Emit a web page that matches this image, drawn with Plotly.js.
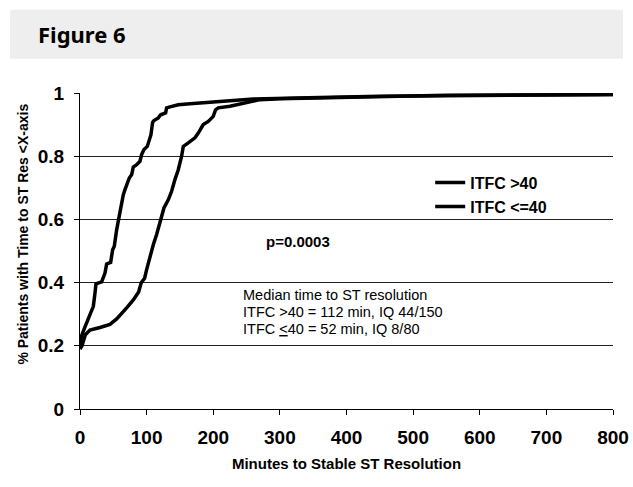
<!DOCTYPE html>
<html>
<head>
<meta charset="utf-8">
<script src="https://cdn.plot.ly/plotly-3.0.1.min.js"></script>
<style>
html,body{margin:0;padding:0;background:#fff;}
#chart{width:633px;height:487px;}
</style>
</head>
<body>
<div id="chart"></div>
<script>
// ITFC >40 (slower curve)
const gt40_x = [0, 3, 8, 15, 30, 45, 55, 62, 70, 80, 88, 92, 97, 100, 105, 110, 115, 120, 122.5, 126, 132.5, 137.5, 142.5, 147.5, 152.5, 155, 162.5, 172.5, 177.5, 185, 192.5, 200, 203.5, 207.5, 225, 245, 270, 300, 360, 450, 550, 800];
const gt40_y = [0.19, 0.20, 0.235, 0.25, 0.258, 0.268, 0.285, 0.30, 0.32, 0.345, 0.37, 0.40, 0.414, 0.441, 0.483, 0.52, 0.552, 0.588, 0.61, 0.636, 0.662, 0.689, 0.726, 0.757, 0.80, 0.831, 0.842, 0.858, 0.873, 0.90, 0.91, 0.926, 0.947, 0.953, 0.958, 0.968, 0.979, 0.982, 0.985, 0.99, 0.993, 0.995];
// ITFC <=40 (faster curve)
const le40_x = [0, 2, 7.5, 15, 20, 22.5, 24, 32.5, 37.5, 40, 46, 49, 51.5, 55, 59, 61, 65, 67.5, 71, 74, 77.5, 80, 85, 90, 92.5, 96, 101, 103.5, 106.5, 109, 111, 117.5, 121, 128.5, 130, 135, 147.5, 165, 210, 260, 360, 450, 800];
const le40_y = [0.19, 0.23, 0.26, 0.30, 0.325, 0.367, 0.396, 0.402, 0.43, 0.459, 0.464, 0.504, 0.515, 0.567, 0.61, 0.641, 0.678, 0.694, 0.715, 0.731, 0.741, 0.766, 0.773, 0.784, 0.805, 0.821, 0.831, 0.847, 0.868, 0.907, 0.913, 0.921, 0.931, 0.937, 0.953, 0.956, 0.963, 0.966, 0.973, 0.981, 0.986, 0.99, 0.995];

const seriesNames = ["ITFC >40", "ITFC <=40"];
const xTicks = [0, 100, 200, 300, 400, 500, 600, 700, 800];
const yTicks = [0, 0.2, 0.4, 0.6, 0.8, 1];
const yTickLabels = ["0", "0.2", "0.4", "0.6", "0.8", "1"];

const FONT = "Liberation Sans, Arial, sans-serif";

const traces = [
  {x: gt40_x, y: gt40_y, name: seriesNames[0], mode: "lines", line: {color: "#000", width: 3.5}},
  {x: le40_x, y: le40_y, name: seriesNames[1], mode: "lines", line: {color: "#000", width: 3.5}}
];

const layout = {
  width: 633, height: 487,
  margin: {l: 80, r: 20, t: 93, b: 78},
  paper_bgcolor: "#fff", plot_bgcolor: "#fff",
  font: {family: FONT, color: "#000"},
  showlegend: true,
  legend: {x: 0.657, y: 0.77, xanchor: "left", yanchor: "top", bgcolor: "rgba(0,0,0,0)",
           font: {family: FONT, size: 16, color: "#000", weight: "bold"}},
  xaxis: {
    range: [0, 800], tickvals: xTicks, ticktext: xTicks.map(String),
    showline: true, linecolor: "#000", linewidth: 1,
    ticks: "outside", ticklen: 5, tickcolor: "#000",
    showgrid: false, zeroline: false,
    ticklabelstandoff: 6,
    tickfont: {family: FONT, size: 19, color: "#000", weight: "bold"},
    title: {text: "<b>Minutes to Stable ST Resolution</b>", font: {family: FONT, size: 15, color: "#000"}, standoff: 11}
  },
  yaxis: {
    range: [0, 1], tickvals: yTicks, ticktext: yTickLabels,
    showline: true, linecolor: "#000", linewidth: 1,
    ticks: "outside", ticklen: 5, tickcolor: "#000",
    showgrid: true, gridcolor: "#222", gridwidth: 1, zeroline: false,
    ticklabelstandoff: 6,
    tickfont: {family: FONT, size: 19, color: "#000", weight: "bold"}
  },
  shapes: [
    {type: "rect", xref: "paper", yref: "paper", x0: -0.1313, x1: 1.0188, y0: 1.1085, y1: 1.2636,
     fillcolor: "#eeeeee", line: {width: 0}, layer: "below"}
  ],
  annotations: [
    {xref: "paper", yref: "paper", x: -0.083, y: 1.188, xanchor: "left", yanchor: "middle", showarrow: false,
     text: "<b>Figure 6</b>", font: {family: "Noto Sans, sans-serif", size: 22, color: "#000"}},
    {xref: "paper", yref: "paper", x: -0.107, y: 0.555, xanchor: "center", yanchor: "middle", showarrow: false,
     textangle: -90, text: "<b>% Patients with Time to ST Res &lt;X-axis</b>", font: {family: FONT, size: 14, color: "#000"}},
    {xref: "paper", yref: "paper", x: 0.345, y: 0.53, xanchor: "left", yanchor: "middle", showarrow: false,
     text: "<b>p=0.0003</b>", font: {family: FONT, size: 15, color: "#000"}},
    {xref: "paper", yref: "paper", x: 0.302, y: 0.3617, xanchor: "left", yanchor: "middle", showarrow: false,
     text: "Median time to ST resolution", font: {family: FONT, size: 14.5, color: "#000"}},
    {xref: "paper", yref: "paper", x: 0.302, y: 0.308, xanchor: "left", yanchor: "middle", showarrow: false,
     text: "ITFC &gt;40 = 112 min, IQ 44/150", font: {family: FONT, size: 14.5, color: "#000"}},
    {xref: "paper", yref: "paper", x: 0.302, y: 0.254, xanchor: "left", yanchor: "middle", showarrow: false,
     text: "ITFC <u>&lt;</u>40 = 52 min, IQ 8/80", font: {family: FONT, size: 14.5, color: "#000"}}
  ]
};

Plotly.newPlot("chart", traces, layout, {displayModeBar: false, staticPlot: true});
</script>
</body>
</html>
